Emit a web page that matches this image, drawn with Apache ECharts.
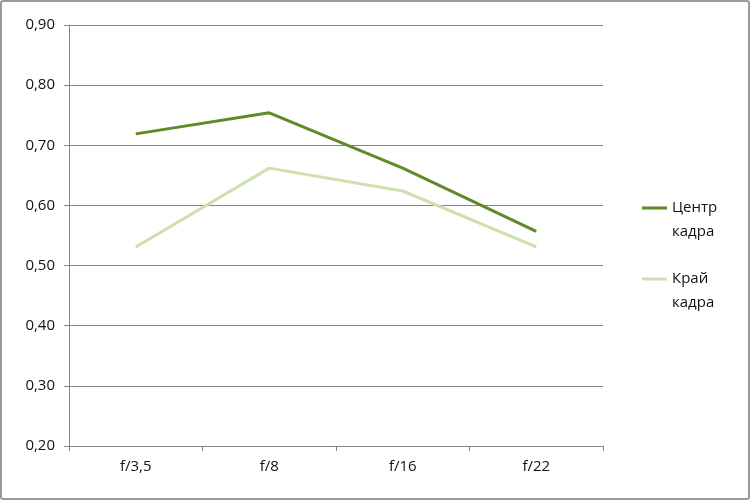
<!DOCTYPE html>
<html><head><meta charset="utf-8">
<script src="https://cdn.jsdelivr.net/npm/echarts@6/dist/echarts.min.js"></script>
<style>html,body{margin:0;padding:0;background:#fff}#c{width:750px;height:500px;box-sizing:border-box;border:2px solid #9a9a9a;border-radius:3px}</style>
</head><body><div id="c"></div>
<script>
const categories = ['f/3,5', 'f/8', 'f/16', 'f/22'];
const centerName = 'Центр\nкадра';
const edgeName = 'Край\nкадра';
const centerValues = [0.719, 0.754, 0.662, 0.557];
const edgeValues = [0.531, 0.662, 0.624, 0.531];
const yTicks = { min: 0.2, max: 0.9, interval: 0.1 };

const chart = echarts.init(document.getElementById('c'));
const font = 'Open Sans, Noto Sans, sans-serif';
chart.setOption({
  animation: false,
  textStyle: { fontFamily: font },
  grid: { left: 67, right: 145, top: 23, bottom: 52, containLabel: false },
  legend: {
    orient: 'vertical', left: 635, top: 165, itemGap: -1,
    icon: 'rect', itemWidth: 25, itemHeight: 3,
    formatter: name => '\u00a0\n' + name,
    textStyle: { fontFamily: font, fontSize: 15, color: '#111', lineHeight: 24 },
    data: [centerName, edgeName]
  },
  xAxis: {
    type: 'category', data: categories, boundaryGap: true,
    axisLine: { lineStyle: { color: '#868686' } },
    axisTick: { show: true, length: 5, lineStyle: { color: '#868686' } },
    axisLabel: { color: '#111', fontSize: 15, margin: 13, fontFamily: font }
  },
  yAxis: {
    type: 'value', min: yTicks.min, max: yTicks.max, interval: yTicks.interval,
    axisLine: { show: true, lineStyle: { color: '#868686' } },
    axisTick: { show: true, length: 5, lineStyle: { color: '#868686' } },
    splitLine: { lineStyle: { color: '#868686' } },
    axisLabel: { color: '#111', fontSize: 15, margin: 14, fontFamily: font,
      formatter: v => v.toFixed(2).replace('.', ',') }
  },
  series: [
    { name: centerName, type: 'line', data: centerValues, symbol: 'none',
      lineStyle: { color: '#5f8a25', width: 3 }, itemStyle: { color: '#5f8a25' } },
    { name: edgeName, type: 'line', data: edgeValues, symbol: 'none',
      lineStyle: { color: '#cde0b0', width: 3 }, itemStyle: { color: '#cde0b0' } }
  ]
});
</script></body></html>
